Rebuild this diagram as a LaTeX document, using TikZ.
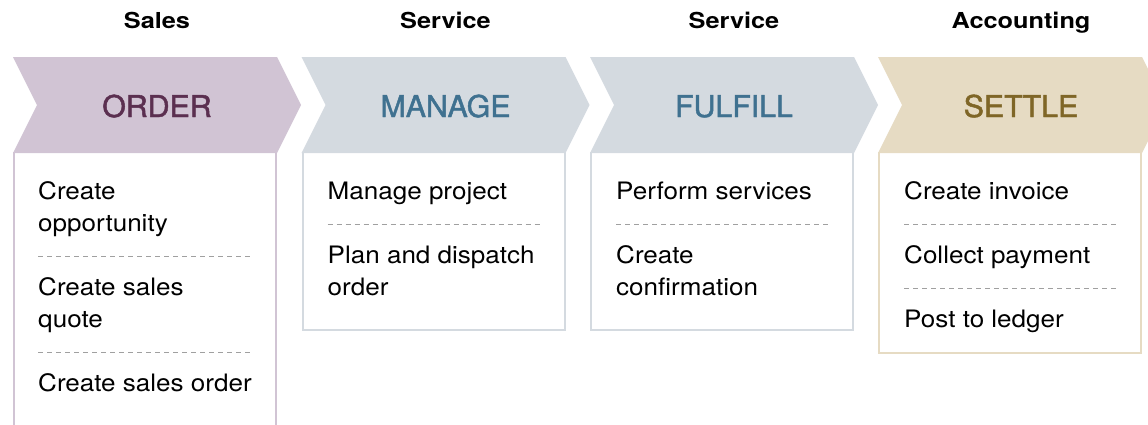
\documentclass[tikz,border=0pt]{standalone}
\usepackage{fontspec}
\setmainfont[FakeStretch=1.085]{TeX Gyre Heros}
\newfontfamily\hdrfont[FakeStretch=1.15]{TeX Gyre Heros}
\newfontfamily\ttlfont[FakeStretch=1.01,FakeBold=1.6]{TeX Gyre Heros}
\definecolor{ordF}{HTML}{D1C4D4}
\definecolor{ordT}{HTML}{5B2F50}
\definecolor{manF}{HTML}{D4DAE0}
\definecolor{manT}{HTML}{3F7190}
\definecolor{setF}{HTML}{E6DBC3}
\definecolor{setT}{HTML}{7F6627}
\definecolor{sepC}{HTML}{A0A0A0}
\newcommand{\mylines}[1]{\begin{tabular}[t]{@{}l@{}}#1\end{tabular}}
\begin{document}
\begin{tikzpicture}[x=1pt,y=-1pt,
  hdr/.style={anchor=base,inner sep=0,font=\hdrfont\fontsize{22}{24}\selectfont\bfseries},
  ttl/.style={anchor=base,inner sep=0,font=\ttlfont\fontsize{30}{34}\selectfont},
  itm/.style={anchor=base west,inner sep=0,font=\fontsize{24}{32}\selectfont},
  sepline/.style={draw=sepC,line width=1pt,dash pattern=on 5pt off 4pt},
  boxline/.style={line width=2pt}]
\useasboundingbox (0,0) rectangle (1148,424);
\clip (0,0) rectangle (1148,424);
% chevrons
\fill[ordF] (13,57) -- (277,57) -- (301,105) -- (277,153) -- (13,153) -- (37,105) -- cycle;
\fill[manF] (301.5,57) -- (565.5,57) -- (589.5,105) -- (565.5,153) -- (301.5,153) -- (325.5,105) -- cycle;
\fill[manF] (590,57) -- (854,57) -- (878,105) -- (854,153) -- (590,153) -- (614,105) -- cycle;
\fill[setF] (878,57) -- (1142,57) -- (1166,105) -- (1142,153) -- (878,153) -- (902,105) -- cycle;
% boxes
\draw[boxline,ordF] (14,152) -- (14,440) (276,440) -- (276,152);
\draw[boxline,manF] (302.5,152) -- (302.5,330) -- (564.5,330) -- (564.5,152);
\draw[boxline,manF] (591,152) -- (591,330) -- (853,330) -- (853,152);
\draw[boxline,setF] (879,152) -- (879,353) -- (1141,353) -- (1141,152);
% headers
\node[hdr] (h1) at (157,28) {Sales};
\node[hdr] (h2) at (445.5,28) {Service};
\node[hdr] (h3) at (734,28) {Service};
\node[hdr] (h4) at (1021,28) {Accounting};
% titles
\node[ttl,text=ordT] (t1) at (157,117) {ORDER};
\node[ttl,text=manT] (t2) at (445.5,117) {MANAGE};
\node[ttl,text=manT] (t3) at (734,117) {FULFILL};
\node[ttl,text=setT] (t4) at (1021,117) {SETTLE};
% ORDER items
\node[itm] (o1) at (38,199) {\mylines{Create\\opportunity}};
\draw[sepline] (38,256) -- (252,256);
\node[itm] (o2) at (38,295) {\mylines{Create sales\\quote}};
\draw[sepline] (38,352) -- (252,352);
\node[itm] (o3) at (38,391) {Create sales order};
% MANAGE items
\node[itm] (m1) at (327.5,199) {Manage project};
\draw[sepline] (327.5,224) -- (541.5,224);
\node[itm] (m2) at (327.5,263) {\mylines{Plan and dispatch\\order}};
% FULFILL items
\node[itm] (f1) at (616,199) {Perform services};
\draw[sepline] (616,224) -- (830,224);
\node[itm] (f2) at (616,263) {\mylines{Create\\confirmation}};
% SETTLE items
\node[itm] (s1) at (904,199) {Create invoice};
\draw[sepline] (904,224) -- (1118,224);
\node[itm] (s2) at (904,263) {Collect payment};
\draw[sepline] (904,288) -- (1118,288);
\node[itm] (s3) at (904,327) {Post to ledger};
\end{tikzpicture}
\end{document}
